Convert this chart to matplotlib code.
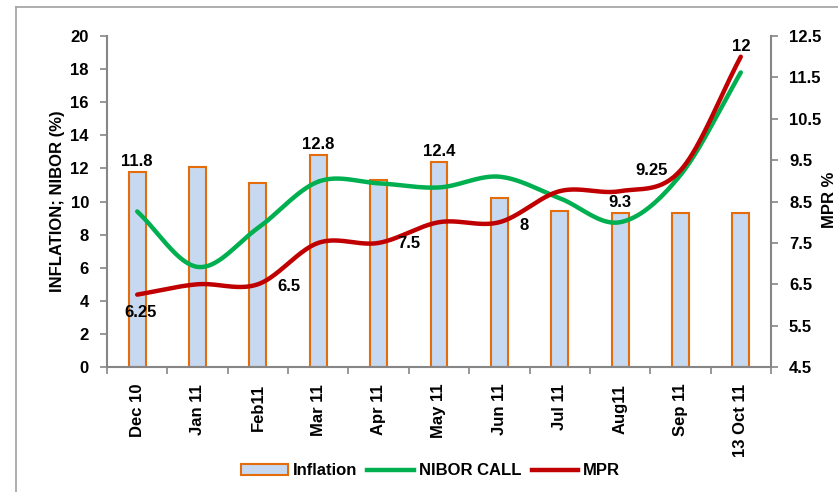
import numpy as np
import matplotlib.pyplot as plt
from matplotlib.lines import Line2D
from matplotlib.patches import Patch

plt.rcParams['font.family'] = ['Liberation Sans', 'DejaVu Sans']
plt.rcParams['font.weight'] = 'bold'

months = ["Dec 10", "Jan 11", "Feb11", "Mar 11", "Apr 11", "May 11",
          "Jun 11", "Jul 11", "Aug11", "Sep 11", "13 Oct 11"]
inflation = [11.8, 12.1, 11.1, 12.8, 11.3, 12.4, 10.2, 9.4, 9.3, 9.3, 9.3]
nibor = [9.4, 6.05, 8.4, 11.2, 11.1, 10.85, 11.5, 10.2, 8.75, 11.6, 17.8]
mpr = [6.25, 6.5, 6.5, 7.5, 7.5, 8.0, 8.0, 8.75, 8.75, 9.25, 12.0]

# which points carry a label, and where (dx, dy in pixels, ha, va)
infl_labels = {0: "11.8", 3: "12.8", 5: "12.4", 8: "9.3"}
mpr_labels = {0: ("6.25", 3, -18, "center", "center"),
              2: ("6.5", 19, -2, "left", "center"),
              4: ("7.5", 19, -1, "left", "center"),
              6: ("8", 20, -3, "left", "center"),
              9: ("9.25", -13, 0, "right", "center"),
              10: ("12", 0, 10, "center", "center")}

BAR_FILL = "#C6D9F1"
BAR_EDGE = "#E46C0A"
GREEN = "#00B050"
RED = "#C00000"
GREY = "#868686"


def smooth(x, y, n=40):
    # catmull-rom curve through the points, like excel's smoothed line
    x = np.asarray(x, float)
    y = np.asarray(y, float)
    px = np.concatenate([[2 * x[0] - x[1]], x, [2 * x[-1] - x[-2]]])
    py = np.concatenate([[2 * y[0] - y[1]], y, [2 * y[-1] - y[-2]]])
    xs, ys = [], []
    t = np.linspace(0, 1, n)
    for i in range(1, len(px) - 2):
        for p, out in ((px, xs), (py, ys)):
            p0, p1, p2, p3 = p[i - 1], p[i], p[i + 1], p[i + 2]
            out.append(0.5 * (2 * p1 + (-p0 + p2) * t
                              + (2 * p0 - 5 * p1 + 4 * p2 - p3) * t ** 2
                              + (-p0 + 3 * p1 - 3 * p2 + p3) * t ** 3))
    return np.concatenate(xs), np.concatenate(ys)


fig = plt.figure(figsize=(8.38, 4.92), dpi=100)
ax = fig.add_axes([0.1277, 0.254, 0.7923, 0.6728])
ax2 = ax.twinx()

x = np.arange(len(months))
ax.bar(x, inflation, width=0.28, color=BAR_FILL, edgecolor=BAR_EDGE, linewidth=1.5, zorder=2)
sx, sy = smooth(x, nibor)
ax.plot(sx, sy, color=GREEN, lw=3.2, solid_capstyle='round', zorder=3)
sx, sy = smooth(x, mpr)
ax2.plot(sx, sy, color=RED, lw=3.2, solid_capstyle='round', zorder=3)

ax.set_xlim(-0.5, len(months) - 0.5)
ax.set_ylim(0, 20)
ax.set_yticks(np.arange(0, 21, 2))
ax2.set_ylim(4.5, 12.5)
ax2.set_yticks(np.arange(4.5, 12.6, 1.0))
ax2.set_yticklabels(["%.1f" % v for v in np.arange(4.5, 12.6, 1.0)])

ax.set_xticks(x)
ax.set_xticklabels(months, rotation=90, fontsize=12, fontweight='bold')
ax.set_xticks(np.arange(-0.5, len(months), 1.0), minor=True)
ax.tick_params(axis='x', which='major', length=0, pad=12)
ax.tick_params(axis='x', which='minor', length=5, color=GREY, width=1.2)
ax.tick_params(axis='y', length=5, color=GREY, width=1.2, pad=8, labelsize=12)
ax2.tick_params(axis='y', length=5, color=GREY, width=1.2, pad=8, labelsize=12)

for a in (ax, ax2):
    for s in a.spines.values():
        s.set_visible(False)
    for lab in a.get_yticklabels():
        lab.set_fontweight('bold')
ax.spines['left'].set_visible(True)
ax.spines['bottom'].set_visible(True)
ax2.spines['right'].set_visible(True)
for s in (ax.spines['left'], ax.spines['bottom'], ax2.spines['right']):
    s.set_color(GREY)
    s.set_linewidth(1.5)

ax.set_ylabel("INFLATION; NIBOR (%)", fontsize=12, fontweight='bold', labelpad=4)
fig.text(829 / 838, 1 - 200 / 492, "MPR %", rotation=90, ha='center', va='center',
         fontsize=12, fontweight='bold')

for i, txt in infl_labels.items():
    ax.annotate(txt, (x[i], inflation[i]), xytext=(0, 3), textcoords='offset pixels',
                ha='center', va='bottom', fontsize=12, fontweight='bold', zorder=5)
for i, (txt, dx, dy, ha, va) in mpr_labels.items():
    ax2.annotate(txt, (x[i], mpr[i]), xytext=(dx, dy), textcoords='offset pixels',
                 ha=ha, va=va, fontsize=12, fontweight='bold', zorder=5)

handles = [Patch(facecolor=BAR_FILL, edgecolor=BAR_EDGE, linewidth=1.5),
           Line2D([], [], color=GREEN, lw=3.2),
           Line2D([], [], color=RED, lw=3.2)]
fig.legend(handles, ["Inflation", "NIBOR CALL", "MPR"], loc='center',
           bbox_to_anchor=(0.514, 0.043), ncol=3, frameon=False,
           handlelength=2.8, handleheight=0.6, handletextpad=0.3, columnspacing=0.6,
           prop={'weight': 'bold', 'size': 12})

# outer chart frame, partly cut off on the right and bottom
fig.add_artist(Line2D([16 / 838, 1.0], [1 - 7 / 492, 1 - 7 / 492], color="#A0A0A0", lw=1.2))
fig.add_artist(Line2D([16 / 838, 16 / 838], [0, 1 - 7 / 492], color="#A0A0A0", lw=1.2))

fig.savefig("out.png", dpi=100)
